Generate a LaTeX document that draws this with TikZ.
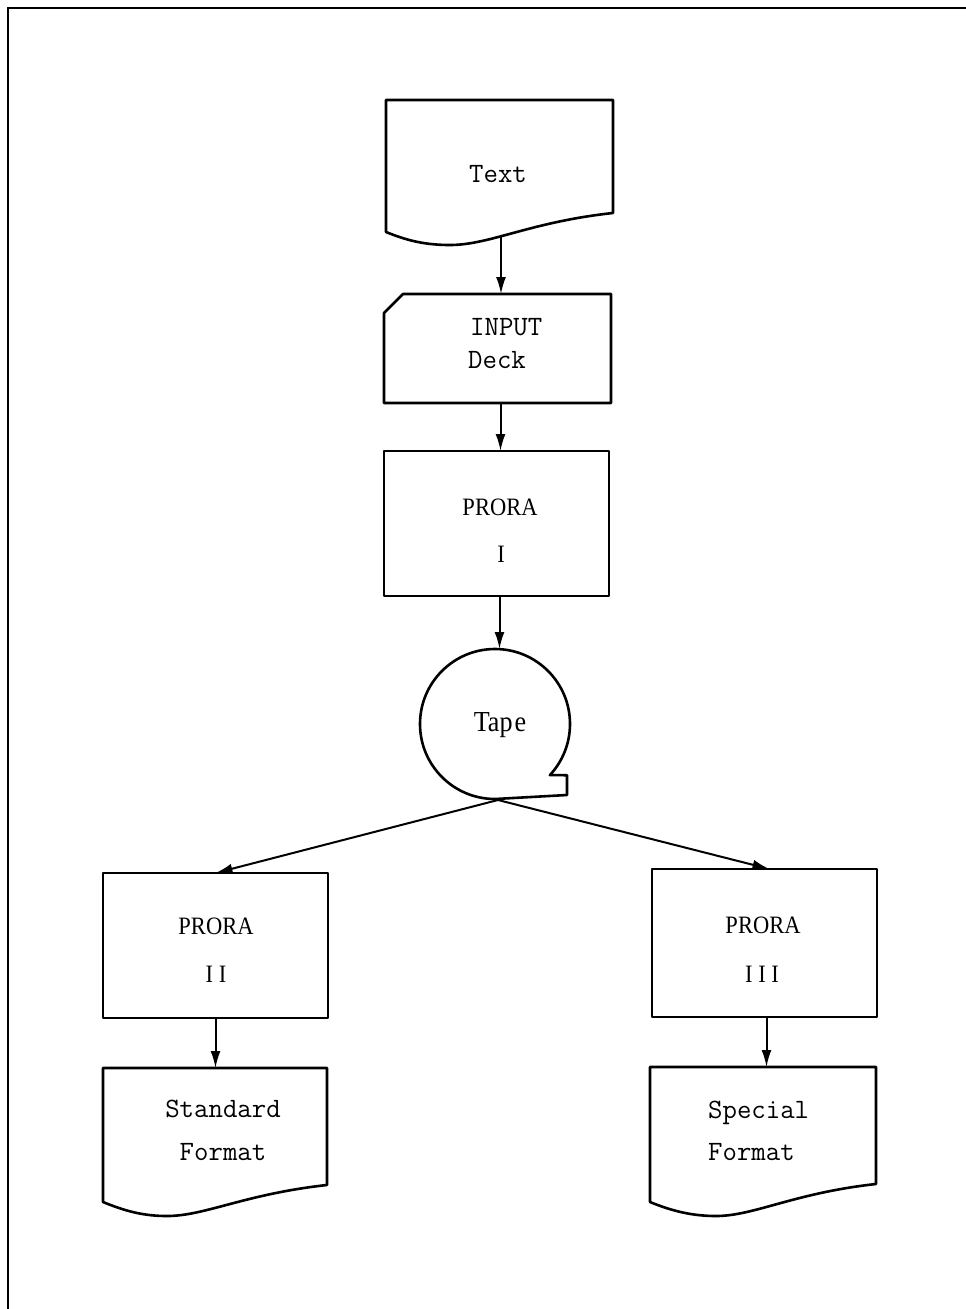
\documentclass[tikz,border=0pt]{standalone}
\usepackage{fontspec}
\usetikzlibrary{arrows.meta,calc}
\newfontfamily\twfont{Latin Modern Mono}
\newfontfamily\srfont[FakeStretch=0.9]{Liberation Serif}
\begin{document}
\begin{tikzpicture}[x=1pt,y=1pt,
  outline/.style={line width=2.6pt, line join=round},
  area/.style={inner sep=0pt, outer sep=0pt, rectangle},
  procbox/.style={inner sep=0pt, outer sep=0pt, rectangle, minimum width=225pt},
  conn/.style={line width=2pt, -{Latex[length=17pt,width=10pt]}},
  tw/.style={inner sep=0pt, font=\twfont\fontsize{28}{33}\selectfont},
  sr/.style={inner sep=0pt, font=\srfont\fontsize{25}{30}\selectfont},
  frameline/.style={line width=2pt}
]
\useasboundingbox (0,0) rectangle (966,-1309);
% frame
\draw[frameline] (966,-8) -- (8,-8) -- (8,-1309);

% ---------- Text document ----------
\node[area, minimum width=227pt, minimum height=137pt] (txt) at (501,-168.5) {};
\begin{scope}[shift={(386,-100)}]
\draw[outline] (0,0) -- (227,0) -- (227,-113) .. controls (144,-122) and (104,-145) .. (64,-145) .. controls (40,-145) and (22,-141) .. (0,-132) -- cycle;
\end{scope}
\node[tw, anchor=base] (txtlabel) at (498,-182) {Text};

% ---------- INPUT deck (card) ----------
\node[area, minimum width=227pt, minimum height=109pt] (inp) at (497.5,-348.5) {};
\draw[outline] ([xshift=19pt]inp.north west) -- (inp.north east) -- (inp.south east) -- (inp.south west) -- ([yshift=-19pt]inp.north west) -- cycle;
\node[tw, anchor=base west] (inplabA) at (470,-335) {INPUT};
\node[tw, anchor=base west] (inplabB) at (468,-368) {Deck};

% ---------- PRORA I ----------
\node[procbox, minimum height=145pt] (p1) at (496.5,-523.5) {};
\draw[outline] (p1.north west) rectangle (p1.south east);
\node[sr, anchor=base] (p1a) at (500,-515) {PRORA};
\node[sr, anchor=base] (p1b) at (501,-562) {I};

% ---------- Tape ----------
\node[circle, inner sep=0pt, outer sep=0pt, minimum size=150pt] (tape) at (495,-724) {};
\draw[outline] (tape.south) arc[start angle=270, end angle=-43, radius=75pt] -- (567,-775.2) -- (567,-795) -- cycle;
\node[sr, anchor=base, font=\srfont\fontsize{29}{34}\selectfont] (tapelab) at (500,-731) {Tap\kern2pt e};

% ---------- PRORA II ----------
\node[procbox, minimum height=145pt] (p2) at (215.5,-945.5) {};
\draw[outline] (p2.north west) rectangle (p2.south east);
\node[sr, anchor=base] (p2a) at (216,-934) {PRORA};
\node[sr, anchor=base] (p2b) at (216,-982) {I I};

% ---------- PRORA III ----------
\node[procbox, minimum height=148pt] (p3) at (764.5,-943) {};
\draw[outline] (p3.north west) rectangle (p3.south east);
\node[sr, anchor=base] (p3a) at (763,-933) {PRORA};
\node[sr, anchor=base] (p3b) at (762,-982) {I I I};

% ---------- Standard Format document ----------
\node[area, minimum width=224pt, minimum height=133pt] (std) at (215,-1134.5) {};
\begin{scope}[shift={(103,-1068)}]
\draw[outline] (0,0) -- (224,0) -- (224,-117) .. controls (142,-126) and (102,-148) .. (64,-148) .. controls (40,-148) and (22,-143) .. (0,-134) -- cycle;
\end{scope}
\node[tw, anchor=base] (stdA) at (223,-1117) {Standard};
\node[tw, anchor=base] (stdB) at (223,-1160) {Format};

% ---------- Special Format document ----------
\node[area, minimum width=226pt, minimum height=134pt] (spc) at (763,-1134) {};
\begin{scope}[shift={(650,-1067)}]
\draw[outline] (0,0) -- (226,0) -- (226,-117) .. controls (144,-126) and (104,-149) .. (66,-149) .. controls (42,-149) and (22,-144) .. (0,-135) -- cycle;
\end{scope}
\node[tw, anchor=base west] (spcA) at (708,-1118) {Special};
\node[tw, anchor=base west] (spcB) at (708,-1160) {Format};

% ---------- connectors ----------
\draw[conn] (txt.south) -- (txt.south |- inp.north);
\draw[conn] ([xshift=3pt]inp.south) -- ([xshift=3pt]inp.south |- p1.north);
\draw[conn] ([xshift=3pt]p1.south) -- ([xshift=3pt]p1.south |- tape.north);
\draw[conn] ($(tape.south)+(3,-1)$) coordinate (split) -- (p2.north);
\draw[conn] (split) -- ([xshift=5pt]p3.north);
\draw[conn] (p2.south) -- (p2.south |- std.north);
\draw[conn] ([xshift=2pt]p3.south) -- ([xshift=2pt]p3.south |- spc.north);
\end{tikzpicture}
\end{document}
